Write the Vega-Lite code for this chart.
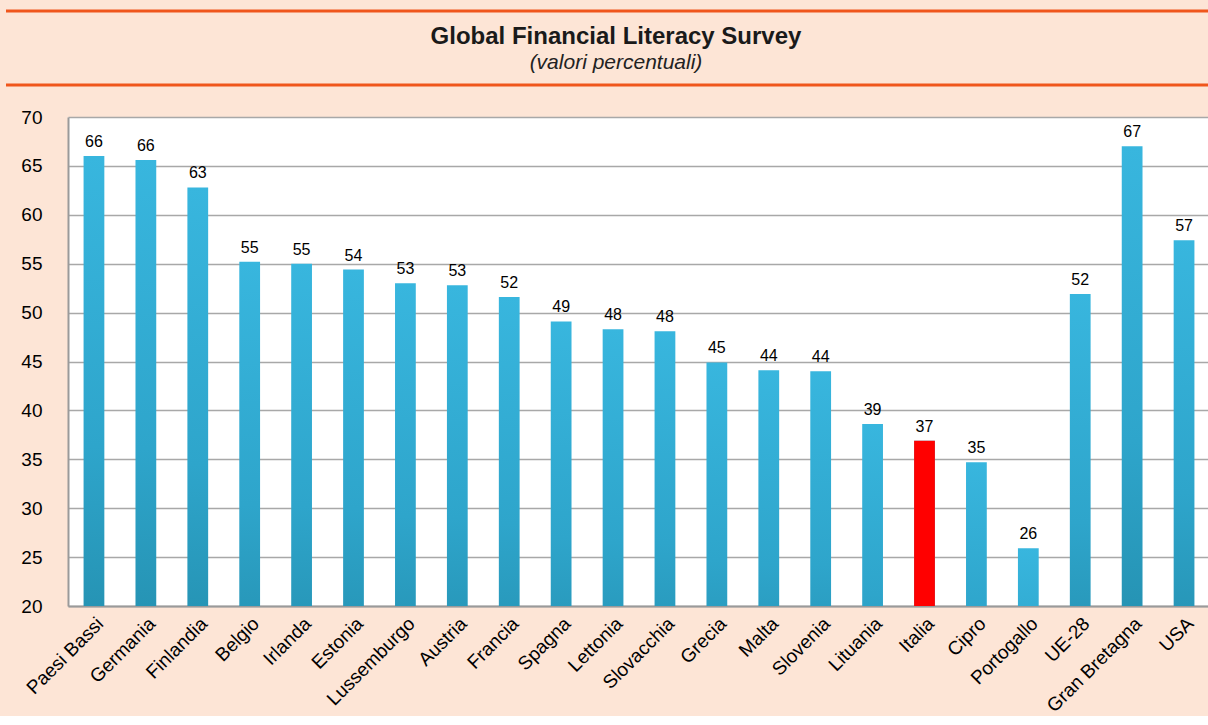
{
  "$schema": "https://vega.github.io/schema/vega-lite/v6.json",
  "background": "#fde5d6",
  "padding": {"left": 4, "top": 9, "right": 0, "bottom": 0},
  "spacing": 21,
  "columns": 1,
  "align": "none",
  "config": {
    "font": "Liberation Sans",
    "view": {"stroke": null}
  },
  "datasets": {
    "scores": [
      {"country": "Paesi Bassi", "value": 66.0},
      {"country": "Germania", "value": 65.6},
      {"country": "Finlandia", "value": 62.8},
      {"country": "Belgio", "value": 55.2},
      {"country": "Irlanda", "value": 55.0},
      {"country": "Estonia", "value": 54.4},
      {"country": "Lussemburgo", "value": 53.0},
      {"country": "Austria", "value": 52.8},
      {"country": "Francia", "value": 51.6},
      {"country": "Spagna", "value": 49.1},
      {"country": "Lettonia", "value": 48.3},
      {"country": "Slovacchia", "value": 48.1},
      {"country": "Grecia", "value": 44.9},
      {"country": "Malta", "value": 44.1},
      {"country": "Slovenia", "value": 44.0},
      {"country": "Lituania", "value": 38.6},
      {"country": "Italia", "value": 36.9},
      {"country": "Cipro", "value": 34.7},
      {"country": "Portogallo", "value": 25.9},
      {"country": "UE-28", "value": 51.9},
      {"country": "Gran Bretagna", "value": 67.0},
      {"country": "USA", "value": 57.4}
    ]
  },
  "concat": [
    {
      "width": 1142,
      "height": 74,
      "view": {"stroke": null, "fill": null},
      "layer": [
        {
          "data": {"values": [{"title": "Global Financial Literacy Survey"}]},
          "mark": {"type": "text", "fontWeight": "bold", "fontSize": 24, "color": "#1a1a1a", "dy": -11, "dx": -23, "baseline": "middle"},
          "encoding": {"text": {"field": "title"}}
        },
        {
          "data": {"values": [{"subtitle": "(valori percentuali)"}]},
          "mark": {"type": "text", "fontStyle": "italic", "fontSize": 21, "color": "#222222", "dy": 15, "dx": -23, "baseline": "middle"},
          "encoding": {"text": {"field": "subtitle"}}
        },
        {
          "data": {"values": [{}]},
          "mark": {"type": "rule", "color": "#f0561c", "strokeWidth": 3},
          "encoding": {
            "x": {"datum": 0, "type": "quantitative", "scale": {"domain": [0, 1], "range": [-62, 1142]}, "axis": null},
            "x2": {"datum": 1},
            "y": {"datum": 0, "type": "quantitative", "scale": {"domain": [0, 1], "reverse": true}, "axis": null}
          }
        },
        {
          "data": {"values": [{}]},
          "mark": {"type": "rule", "color": "#f0561c", "strokeWidth": 3},
          "encoding": {
            "x": {"datum": 0, "type": "quantitative", "axis": null},
            "x2": {"datum": 1},
            "y": {"datum": 1, "type": "quantitative", "axis": null}
          }
        }
      ]
    },
    {
      "width": 1142,
      "height": 489,
      "view": {"fill": "white", "stroke": null},
      "data": {"name": "scores"},
      "encoding": {
        "x": {
          "field": "country", "type": "nominal", "sort": null,
          "scale": {"paddingInner": 0.6, "paddingOuter": 0.3},
          "axis": {
            "title": null, "labelAngle": -45, "labelFontSize": 19, "labelColor": "#000000",
            "ticks": false, "tickSize": 0, "labelPadding": 8, "domainColor": "#9a9a9a", "domainWidth": 2,
            "grid": false
          }
        },
        "y": {
          "field": "value", "type": "quantitative",
          "scale": {"domain": [20, 70], "nice": false, "zero": false},
          "axis": {
            "title": null,
            "values": [20, 25, 30, 35, 40, 45, 50, 55, 60, 65, 70],
            "labelFontSize": 19, "labelColor": "#000000", "ticks": false, "tickSize": 0, "labelPadding": 26,
            "domainColor": "#9a9a9a", "domainWidth": 2,
            "gridColor": "#a8a8a8", "gridWidth": 1.5
          }
        }
      },
      "layer": [
        {
          "mark": {
            "type": "bar", "clip": true,
            "color": {
              "gradient": "linear", "x1": 0, "y1": 0, "x2": 0, "y2": 1,
              "stops": [
                {"offset": 0, "color": "#38b6de"},
                {"offset": 0.45, "color": "#2ea5cb"},
                {"offset": 1, "color": "#1c7f99"}
              ]
            }
          }
        },
        {
          "transform": [{"filter": "datum.country === 'Italia'"}],
          "mark": {"type": "bar", "color": "#ff0000", "clip": true}
        },
        {
          "mark": {"type": "text", "baseline": "bottom", "dy": -6, "fontSize": 16, "color": "#000000"},
          "encoding": {"text": {"field": "value", "type": "quantitative", "format": ".0f"}}
        }
      ]
    }
  ]
}
